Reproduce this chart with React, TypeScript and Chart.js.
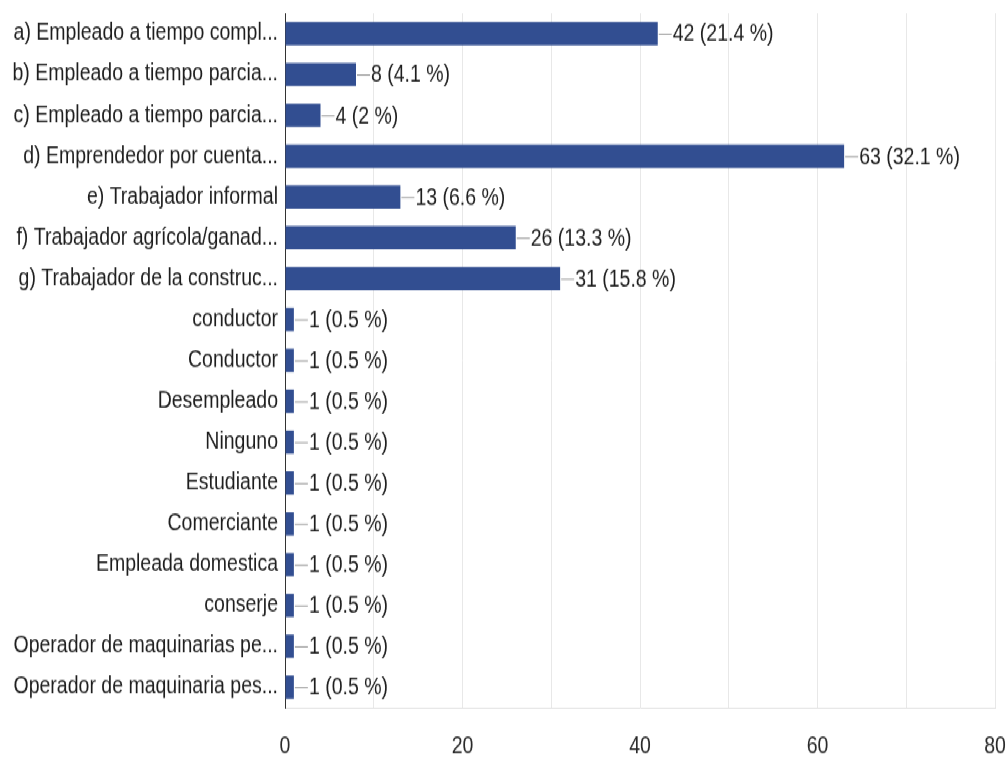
import React, { useEffect, useRef } from "react";
import { Chart, registerables } from "chart.js";

Chart.register(...registerables);

const categories = [
  "a) Empleado a tiempo compl...",
  "b) Empleado a tiempo parcia...",
  "c) Empleado a tiempo parcia...",
  "d) Emprendedor por cuenta...",
  "e) Trabajador informal",
  "f) Trabajador agrícola/ganad...",
  "g) Trabajador de la construc...",
  "conductor",
  "Conductor",
  "Desempleado",
  "Ninguno",
  "Estudiante",
  "Comerciante",
  "Empleada domestica",
  "conserje",
  "Operador de maquinarias pe...",
  "Operador de maquinaria pes...",
];

const counts = [42, 8, 4, 63, 13, 26, 31, 1, 1, 1, 1, 1, 1, 1, 1, 1, 1];

const percents = [
  "21.4 %", "4.1 %", "2 %", "32.1 %", "6.6 %", "13.3 %", "15.8 %",
  "0.5 %", "0.5 %", "0.5 %", "0.5 %", "0.5 %", "0.5 %", "0.5 %", "0.5 %", "0.5 %", "0.5 %",
];

const xMin = 0;
const xMax = 80;
const xGridStep = 10;
const xLabelStep = 20;

const FONT = "'Liberation Sans', Arial, sans-serif";
const FONT_SIZE = 19.5;
const STRETCH = 758 / 632;

const valueLabelPlugin = {
  id: "valueLabels",
  afterDatasetsDraw(chart: any) {
    const ctx = chart.ctx;
    const meta = chart.getDatasetMeta(0);
    ctx.save();
    meta.data.forEach((el: any, i: number) => {
      const x = el.x;
      const y = el.y;
      ctx.strokeStyle = "#9a9a9a";
      ctx.lineWidth = 1;
      ctx.beginPath();
      ctx.moveTo(x + 1, y + 0.5);
      ctx.lineTo(x + 14, y + 0.5);
      ctx.stroke();
      ctx.fillStyle = "#1e1e1e";
      ctx.font = `${FONT_SIZE}px ${FONT}`;
      ctx.textAlign = "left";
      ctx.textBaseline = "middle";
      ctx.fillText(`${counts[i]} (${percents[i]})`, x + 15, y + 1);
    });
    ctx.restore();
  },
};

export default function App() {
  const canvasRef = useRef<HTMLCanvasElement | null>(null);

  useEffect(() => {
    const canvas = canvasRef.current;
    if (!canvas) return;
    const chart = new Chart(canvas, {
      type: "bar",
      data: {
        labels: categories,
        datasets: [
          {
            data: counts,
            backgroundColor: "#324e91",
            borderWidth: 0,
            barPercentage: 0.57,
            categoryPercentage: 1,
          },
        ],
      },
      options: {
        indexAxis: "y",
        responsive: false,
        animation: false,
        layout: { padding: { top: 11, right: 13, left: 0, bottom: 0 } },
        plugins: {
          legend: { display: false },
          tooltip: { enabled: false },
        },
        scales: {
          x: {
            type: "linear",
            min: xMin,
            max: xMax,
            grid: { color: "#e8e8e8", drawTicks: false, lineWidth: 1 },
            border: { display: true, color: "#e0e0e0" },
            ticks: {
              stepSize: xGridStep,
              padding: 21,
              color: "#2a2a2a",
              font: { family: FONT, size: FONT_SIZE },
              maxRotation: 0,
              autoSkip: false,
              callback: (v: any) => (Number(v) % xLabelStep === 0 ? String(v) : ""),
            },
            afterFit: (scale: any) => {
              scale.height = 42;
              scale.paddingLeft = 0;
              scale.paddingRight = 0;
            },
          },
          y: {
            type: "category",
            grid: { display: false, drawTicks: false },
            border: { display: true, color: "#333333", width: 1 },
            ticks: {
              padding: 7,
              color: "#1e1e1e",
              autoSkip: false,
              font: { family: FONT, size: FONT_SIZE },
            },
            afterFit: (scale: any) => {
              scale.width = 285;
              scale.paddingTop = 0;
              scale.paddingBottom = 0;
            },
          },
        },
      },
      plugins: [valueLabelPlugin],
    });
    return () => chart.destroy();
  }, []);

  return (
    <div
      style={{
        position: "absolute",
        left: 0,
        top: 0,
        width: 1008,
        height: 632,
        background: "#ffffff",
        transform: `scaleY(${STRETCH})`,
        transformOrigin: "top left",
      }}
    >
      <canvas ref={canvasRef} width={1008} height={632} />
    </div>
  );
}
